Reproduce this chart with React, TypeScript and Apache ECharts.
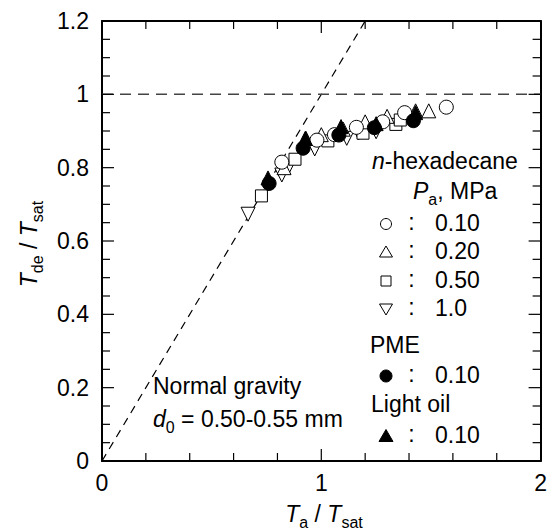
import React, { useEffect, useRef } from 'react';
import * as echarts from 'echarts';

const F = 'Arial, "Liberation Sans", sans-serif';

// n-hexadecane, Pa = 0.10 MPa (open circle)
const hex010 = [[0.82, 0.815], [0.98, 0.875], [1.06, 0.89], [1.16, 0.91], [1.28, 0.925], [1.38, 0.95], [1.57, 0.965]];
// n-hexadecane, Pa = 0.20 MPa (open triangle)
const hex020 = [[0.83, 0.80], [0.93, 0.88], [1.0, 0.89], [1.1, 0.905], [1.2, 0.925], [1.3, 0.94], [1.43, 0.955], [1.49, 0.955]];
// n-hexadecane, Pa = 0.50 MPa (open square)
const hex050 = [[0.727, 0.723], [0.88, 0.823], [1.03, 0.873], [1.19, 0.894], [1.34, 0.918], [1.36, 0.93]];
// n-hexadecane, Pa = 1.0 MPa (open down triangle)
const hex100 = [[0.666, 0.673], [0.82, 0.78], [0.85, 0.80], [0.97, 0.851], [1.116, 0.88], [1.17, 0.895], [1.25, 0.898]];
// PME, 0.10 MPa (filled circle)
const pme010 = [[0.762, 0.757], [0.917, 0.853], [1.08, 0.889], [1.242, 0.909], [1.42, 0.928]];
// Light oil, 0.10 MPa (filled triangle)
const light010 = [[0.757, 0.772], [0.927, 0.88], [1.09, 0.912], [1.25, 0.92], [1.43, 0.95]];

const diagonalLine = [[0, 0], [1.2, 1.2]];
const unityLine = [[0, 1], [2, 1]];

// tick positions (data units)
const xMajorTicks = [0, 1, 2];
const xMinorTicks = [0.2, 0.4, 0.6, 0.8, 1.2, 1.4, 1.6, 1.8];
const yMajorTicks = [0, 0.2, 0.4, 0.6, 0.8, 1.0, 1.2];
const yMinorTicks = [0.05, 0.1, 0.15, 0.25, 0.3, 0.35, 0.45, 0.5, 0.55, 0.65, 0.7, 0.75, 0.85, 0.9, 0.95, 1.05, 1.1, 1.15];

const legendValues = ['0.10', '0.20', '0.50', '1.0', '0.10', '0.10'];

const FS = 23;

const baseRich = {
  b: { fontSize: FS, fontFamily: F, color: '#000', verticalAlign: 'top', lineHeight: 26 },
  it: { fontSize: FS, fontFamily: F, color: '#000', fontStyle: 'italic', verticalAlign: 'top', lineHeight: 26 },
  sub: { fontSize: 16, fontFamily: F, color: '#000', verticalAlign: 'top', lineHeight: 18, padding: [12, 0, 0, 0] },
};

function txt(text: string, x: number, y: number, align = 'left', rotation = 0) {
  return {
    type: 'text',
    x,
    y,
    rotation,
    z: 100,
    style: {
      text,
      rich: baseRich,
      align,
      textAlign: align,
      verticalAlign: 'middle',
      textVerticalAlign: 'middle',
      fill: '#000',
      fontSize: FS,
      fontFamily: F,
    },
  };
}

const fmt = (v: number) => String(+v.toFixed(2));

function labelAxis(min: number, max: number, interval: number, position: string, labels: boolean, formatter?: any) {
  const ax: any = {
    type: 'value',
    min,
    max,
    interval,
    position,
    axisLine: { show: true, onZero: false, lineStyle: { color: '#000', width: 2 } },
    axisTick: { show: false },
    minorTick: { show: false },
    splitLine: { show: false },
    axisLabel: { show: false },
  };
  if (labels) {
    ax.axisLabel = { show: true, fontSize: FS, color: '#000', fontFamily: F, margin: position === 'left' ? 13 : 10 };
    if (formatter) ax.axisLabel.formatter = formatter;
  }
  return ax;
}

function markerStyle(fill: string) {
  return { color: fill, borderColor: '#000', borderWidth: 1, opacity: 1 };
}

const tickStyle = { stroke: '#000', lineWidth: 1.2 };

function renderXTick(params: any, api: any) {
  const v = api.value(0);
  const len = api.value(1) ? 12 : 8;
  const cs = params.coordSys;
  const p = api.coord([v, 0]);
  const bottom = cs.y + cs.height;
  return {
    type: 'group',
    children: [
      { type: 'line', shape: { x1: p[0], y1: bottom, x2: p[0], y2: bottom - len }, style: tickStyle },
      { type: 'line', shape: { x1: p[0], y1: cs.y, x2: p[0], y2: cs.y + len }, style: tickStyle },
    ],
  };
}

function renderYTick(params: any, api: any) {
  const v = api.value(0);
  const len = api.value(1) ? 12 : 8;
  const cs = params.coordSys;
  const p = api.coord([0, v]);
  const right = cs.x + cs.width;
  return {
    type: 'group',
    children: [
      { type: 'line', shape: { x1: cs.x, y1: p[1], x2: cs.x + len, y2: p[1] }, style: tickStyle },
      { type: 'line', shape: { x1: right, y1: p[1], x2: right - len, y2: p[1] }, style: tickStyle },
    ],
  };
}

export default function App() {
  const ref = useRef<HTMLDivElement>(null);
  useEffect(() => {
    document.body.style.margin = '0';
    const chart = echarts.init(ref.current!, null, { renderer: 'svg' });

    const rowYs = [224, 252, 281, 309, 376, 436];
    const symX = 386;
    const legendGraphics: any[] = [];
    rowYs.forEach((y, i) => {
      legendGraphics.push(txt('{b|:}', 411.5, y - 1, 'center'));
      legendGraphics.push(txt('{b|' + legendValues[i] + '}', 435, y, 'left'));
    });
    legendGraphics.push(
      { type: 'circle', z: 100, shape: { cx: symX, cy: rowYs[0], r: 5.5 }, style: { fill: '#fff', stroke: '#000', lineWidth: 1 } },
      { type: 'polygon', z: 100, shape: { points: [[symX - 6.5, rowYs[1] + 5], [symX + 6.5, rowYs[1] + 5], [symX, rowYs[1] - 6]] }, style: { fill: '#fff', stroke: '#000', lineWidth: 1 } },
      { type: 'rect', z: 100, shape: { x: symX - 5, y: rowYs[2] - 5, width: 10, height: 10 }, style: { fill: '#fff', stroke: '#000', lineWidth: 1 } },
      { type: 'polygon', z: 100, shape: { points: [[symX - 6.5, rowYs[3] - 5], [symX + 6.5, rowYs[3] - 5], [symX, rowYs[3] + 6]] }, style: { fill: '#fff', stroke: '#000', lineWidth: 1 } },
      { type: 'circle', z: 100, shape: { cx: symX, cy: rowYs[4], r: 6 }, style: { fill: '#000', stroke: '#000', lineWidth: 1 } },
      { type: 'polygon', z: 100, shape: { points: [[symX - 7, rowYs[5] + 5.5], [symX + 7, rowYs[5] + 5.5], [symX, rowYs[5] - 6.5]] }, style: { fill: '#000', stroke: '#000', lineWidth: 1 } },
    );

    const xTickData = [...xMajorTicks.map((v) => [v, 1]), ...xMinorTicks.map((v) => [v, 0])];
    const yTickData = [...yMajorTicks.map((v) => [v, 1]), ...yMinorTicks.map((v) => [v, 0])];

    const option: any = {
      animation: false,
      grid: { left: 102, top: 21, width: 440, height: 440 },
      xAxis: [
        labelAxis(0, 2, 1, 'bottom', true),
        labelAxis(0, 2, 1, 'top', false),
      ],
      yAxis: [
        labelAxis(0, 1.2, 0.2, 'left', true, fmt),
        labelAxis(0, 1.2, 0.2, 'right', false),
      ],
      series: [
        { type: 'custom', data: xTickData, renderItem: renderXTick, silent: true, clip: false, z: 5, encode: { x: 0 } },
        { type: 'custom', data: yTickData, renderItem: renderYTick, silent: true, clip: false, z: 5, encode: { y: 0 } },
        {
          type: 'line',
          data: diagonalLine,
          symbol: 'none',
          silent: true,
          z: 1,
          lineStyle: { color: '#000', width: 1.2, type: [8, 6] },
        },
        {
          type: 'line',
          data: unityLine,
          symbol: 'none',
          silent: true,
          z: 1,
          lineStyle: { color: '#444', width: 1.5, type: [11, 7] },
        },
        { type: 'scatter', data: hex100, symbol: 'triangle', symbolRotate: 180, symbolSize: 14, itemStyle: markerStyle('#fff'), z: 2 },
        { type: 'scatter', data: hex050, symbol: 'rect', symbolSize: 12, itemStyle: markerStyle('#fff'), z: 2 },
        { type: 'scatter', data: hex020, symbol: 'triangle', symbolSize: 14, itemStyle: markerStyle('#fff'), z: 2 },
        { type: 'scatter', data: hex010, symbol: 'circle', symbolSize: 14, itemStyle: markerStyle('#fff'), z: 2 },
        { type: 'scatter', data: light010, symbol: 'triangle', symbolSize: 14, itemStyle: markerStyle('#000'), z: 3 },
        { type: 'scatter', data: pme010, symbol: 'circle', symbolSize: 14, itemStyle: markerStyle('#000'), z: 3 },
      ],
      graphic: [
        txt('{it|T}{sub|a}{b| / }{it|T}{sub|sat}', 324, 515, 'center'),
        txt('{it|T}{sub|de}{b| / }{it|T}{sub|sat}', 30, 244, 'center', Math.PI / 2),
        txt('{it|n}{b|-hexadecane}', 372, 162, 'left'),
        txt('{it|P}{sub|a}{b|, MPa}', 413, 192, 'left'),
        txt('{b|PME}', 370, 346, 'left'),
        txt('{b|Light oil}', 371, 405, 'left'),
        txt('{b|Normal gravity}', 153, 387, 'left'),
        txt('{it|d}{sub|0}{b| = 0.50-0.55 mm}', 153, 420, 'left'),
        ...legendGraphics,
      ],
    };

    chart.setOption(option);
    return () => chart.dispose();
  }, []);
  return <div ref={ref} style={{ width: 550, height: 529 }} />;
}
